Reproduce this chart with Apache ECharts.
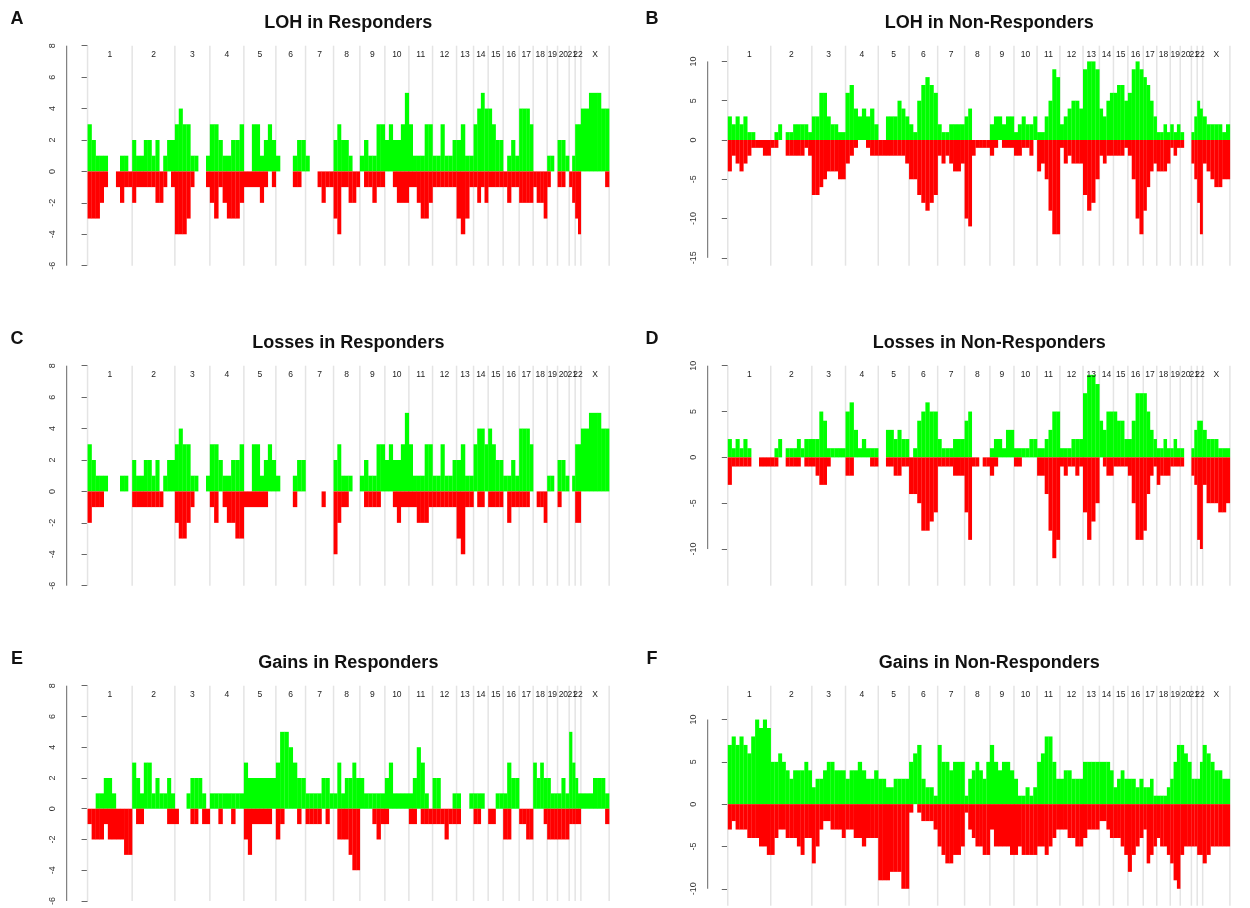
<!DOCTYPE html>
<html>
<head>
<meta charset="utf-8">
<script src="https://cdn.jsdelivr.net/npm/echarts@6/dist/echarts.min.js"></script>
<style>
html, body { margin: 0; padding: 0; background: #fff; }
#chart { width: 1250px; height: 908px; }
</style>
</head>
<body>
<div id="chart"></div>
<script>
// chromosomes and their relative lengths on the genome axis
var chromNames = ['1', '2', '3', '4', '5', '6', '7', '8', '9', '10', '11', '12',
    '13', '14', '15', '16', '17', '18', '19', '20', '21', '22', 'X'];
var chromLen = [44.6, 42.7, 35, 34, 32, 29.7, 28, 26.3, 25, 24, 23.7, 24,
    17, 14.6, 15, 16, 14, 14, 10.4, 11.6, 6, 5.7, 28.3];

// y tick labels
var respTicks = [-6, -4, -2, 0, 2, 4, 6, 8];
var lohNonTicks = [-15, -10, -5, 0, 5, 10];
var lossNonTicks = [-10, -5, 0, 5, 10];
var gainNonTicks = [-10, -5, 0, 5, 10];

// each profile: one list per chromosome, the chromosome split in equal bins
var lohRespUp = [
    [3, 2, 1, 1, 1, 0, 0, 0, 1, 1, 0], [2, 1, 1, 2, 2, 1, 2, 0, 1, 2, 2], [3, 4, 3, 3, 1, 1, 0, 0, 1],
    [3, 3, 2, 1, 1, 2, 2, 3], [0, 0, 3, 3, 1, 2, 3, 2], [1, 0, 0, 0, 1, 2, 2], [1, 0, 0, 0, 0, 0, 0],
    [2, 3, 2, 2, 1, 0, 0], [1, 2, 1, 1, 3, 3], [2, 3, 2, 2, 3, 5], [3, 1, 1, 1, 3, 3], [1, 1, 3, 1, 1, 2],
    [2, 3, 1, 1], [3, 4, 5, 4], [4, 3, 2, 2], [0, 1, 2, 1], [4, 4, 4, 3], [0, 0, 0, 0],
    [1, 1, 0], [2, 2, 1], [0, 1], [3, 3], [4, 4, 5, 5, 5, 4, 4]
];
var lohRespDown = [
    [-3, -3, -3, -2, -1, 0, 0, -1, -2, -1, -1], [-2, -1, -1, -1, -1, -1, -2, -2, -1, 0, -1], [-4, -4, -4, -3, -1, 0, 0, 0, -1],
    [-2, -3, -1, -2, -3, -3, -3, -2], [-1, -1, -1, -1, -2, -1, 0, -1], [0, 0, 0, 0, -1, -1, 0], [0, 0, 0, -1, -2, -1, -1],
    [-3, -4, -1, -1, -2, -2, -1], [0, -1, -1, -2, -1, -1], [0, 0, -1, -2, -2, -2], [-1, -1, -2, -3, -3, -2], [-1, -1, -1, -1, -1, -1],
    [-3, -4, -3, -1], [-1, -2, -1, -2], [-1, -1, -1, -1], [-1, -2, -1, -1], [-2, -2, -2, -2], [-1, -2, -2, -3],
    [-1, 0, 0], [-1, -1, 0], [-1, -2], [-3, -4], [0, 0, 0, 0, 0, 0, -1]
];

var lohNonUp = [
    [3, 2, 3, 2, 3, 1, 1, 0, 0, 0, 0], [0, 1, 2, 0, 1, 1, 2, 2, 2, 2, 1], [3, 3, 6, 6, 3, 2, 2, 1, 1],
    [6, 7, 4, 3, 4, 3, 4, 2], [0, 0, 3, 3, 3, 5, 4, 3], [2, 1, 5, 7, 8, 7, 6], [2, 1, 1, 2, 2, 2, 2],
    [3, 4, 0, 0, 0, 0, 0], [2, 3, 3, 2, 3, 3], [1, 2, 3, 2, 2, 3], [1, 1, 3, 5, 9, 8], [2, 3, 4, 5, 5, 4],
    [9, 10, 10, 9], [4, 3, 5, 6], [6, 7, 7, 5], [6, 9, 10, 9], [8, 7, 5, 3], [1, 1, 2, 1],
    [2, 1, 2], [1, 0, 0], [1, 3], [5, 4], [3, 2, 2, 2, 2, 1, 2]
];
var lohNonDown = [
    [-4, -2, -3, -4, -3, -2, -1, -1, -1, -2, -2], [-1, -1, 0, 0, -2, -2, -2, -2, -2, -1, -2], [-7, -7, -6, -5, -4, -4, -4, -5, -5],
    [-3, -2, -1, 0, 0, -1, -2, -2], [-2, -2, -2, -2, -2, -2, -2, -3], [-5, -5, -7, -8, -9, -8, -7], [-2, -3, -2, -3, -4, -4, -3],
    [-10, -11, -2, -1, -1, -1, -1], [-2, -1, 0, -1, -1, -1], [-2, -2, -1, -1, -2, 0], [-4, -3, -5, -9, -12, -12], [-1, -3, -2, -3, -3, -3],
    [-7, -9, -8, -5], [-2, -3, -2, -2], [-2, -2, -2, -1], [-2, -5, -10, -12], [-9, -6, -4, -3], [-4, -4, -4, -3],
    [-1, -2, -1], [-1, 0, 0], [-3, -5], [-8, -12], [-3, -4, -5, -6, -6, -5, -5]
];

var lossRespUp = [
    [3, 2, 1, 1, 1, 0, 0, 0, 1, 1, 0], [2, 1, 1, 2, 2, 1, 2, 0, 1, 2, 2], [3, 4, 3, 3, 1, 1, 0, 0, 1],
    [3, 3, 2, 1, 1, 2, 2, 3], [0, 0, 3, 3, 1, 2, 3, 2], [1, 0, 0, 0, 1, 2, 2], [0, 0, 0, 0, 0, 0, 0],
    [2, 3, 1, 1, 1, 0, 0], [1, 2, 1, 1, 3, 3], [2, 3, 2, 2, 3, 5], [3, 1, 1, 1, 3, 3], [1, 1, 3, 1, 1, 2],
    [2, 3, 1, 1], [3, 4, 4, 3], [4, 3, 2, 2], [1, 1, 2, 1], [4, 4, 4, 3], [0, 0, 0, 0],
    [1, 1, 0], [2, 2, 1], [0, 1], [3, 3], [4, 4, 5, 5, 5, 4, 4]
];
var lossRespDown = [
    [-2, -1, -1, -1, 0, 0, 0, 0, 0, 0, 0], [-1, -1, -1, -1, -1, -1, -1, -1, 0, 0, 0], [-2, -3, -3, -2, -1, 0, 0, 0, 0],
    [-1, -2, 0, -1, -2, -2, -3, -3], [-1, -1, -1, -1, -1, -1, 0, 0], [0, 0, 0, 0, -1, 0, 0], [0, 0, 0, 0, -1, 0, 0],
    [-4, -2, -1, -1, 0, 0, 0], [0, -1, -1, -1, -1, 0], [0, 0, -1, -2, -1, -1], [-1, -1, -2, -2, -2, -1], [-1, -1, -1, -1, -1, -1],
    [-3, -4, -1, -1], [0, -1, -1, 0], [-1, -1, -1, -1], [0, -2, -1, -1], [-1, -1, -1, 0], [0, -1, -1, -2],
    [0, 0, 0], [-1, 0, 0], [0, 0], [-2, -2], [0, 0, 0, 0, 0, 0, 0]
];

var lossNonUp = [
    [2, 1, 2, 1, 2, 1, 0, 0, 0, 0, 0], [0, 1, 2, 0, 1, 1, 1, 2, 1, 2, 2], [2, 2, 5, 4, 1, 1, 1, 1, 1],
    [5, 6, 3, 1, 2, 1, 1, 1], [0, 0, 3, 3, 2, 3, 2, 2], [0, 1, 4, 5, 6, 5, 5], [2, 1, 1, 1, 2, 2, 2],
    [4, 5, 0, 0, 0, 0, 0], [1, 2, 2, 1, 3, 3], [1, 1, 1, 1, 2, 2], [1, 1, 2, 3, 5, 5], [1, 1, 1, 2, 2, 2],
    [7, 9, 9, 8], [4, 3, 5, 5], [5, 4, 4, 2], [2, 4, 7, 7], [7, 5, 3, 2], [1, 1, 2, 1],
    [1, 2, 1], [1, 0, 0], [1, 3], [4, 4], [3, 2, 2, 2, 1, 1, 1]
];
var lossNonDown = [
    [-3, -1, -1, -1, -1, -1, 0, 0, -1, -1, -1], [-1, -1, 0, 0, -1, -1, -1, -1, 0, -1, -1], [-1, -2, -3, -3, -1, 0, 0, 0, 0],
    [-2, -2, 0, 0, 0, 0, -1, -1], [0, 0, -1, -1, -2, -2, -1, -1], [-4, -4, -5, -8, -8, -7, -6], [-1, -1, -1, -1, -2, -2, -2],
    [-6, -9, -1, -1, 0, -1, -1], [-2, -1, 0, 0, 0, 0], [-1, -1, 0, 0, 0, 0], [-2, -2, -4, -8, -11, -9], [-1, -2, -1, -1, -2, -1],
    [-6, -9, -7, -5], [0, -1, -2, -2], [-1, -1, -1, -1], [-2, -5, -9, -9], [-8, -4, -2, -1], [-3, -2, -2, -2],
    [-1, -1, -1], [-1, 0, 0], [-2, -3], [-9, -10], [-3, -5, -5, -5, -6, -6, -5]
];

var gainRespUp = [
    [0, 0, 1, 1, 2, 2, 1, 0, 0, 0, 0], [3, 2, 1, 3, 3, 1, 2, 1, 1, 2, 1], [0, 0, 0, 1, 2, 2, 2, 1, 0],
    [1, 1, 1, 1, 1, 1, 1, 1], [3, 2, 2, 2, 2, 2, 2, 2], [3, 5, 5, 4, 3, 2, 2], [1, 1, 1, 1, 2, 2, 1],
    [1, 3, 1, 2, 2, 3, 2], [2, 1, 1, 1, 1, 1], [2, 3, 1, 1, 1, 1], [1, 2, 4, 3, 1, 0], [2, 2, 0, 0, 0, 1],
    [1, 0, 0, 1], [1, 1, 1, 0], [0, 0, 1, 1], [1, 3, 2, 2], [0, 0, 0, 0], [3, 2, 3, 2],
    [2, 1, 1], [1, 2, 1], [5, 3], [2, 1], [1, 1, 1, 2, 2, 2, 1]
];
var gainRespDown = [
    [-1, -2, -2, -2, -1, -2, -2, -2, -2, -3, -3], [0, -1, -1, 0, 0, 0, 0, 0, 0, -1, -1], [-1, 0, 0, 0, -1, -1, 0, -1, -1],
    [0, 0, -1, 0, 0, -1, 0, 0], [-2, -3, -1, -1, -1, -1, -1, 0], [-2, -1, 0, 0, 0, -1, 0], [-1, -1, -1, -1, 0, -1, 0],
    [0, -2, -2, -2, -3, -4, -4], [0, 0, 0, -1, -2, -1], [-1, 0, 0, 0, 0, 0], [-1, -1, 0, -1, -1, -1], [-1, -1, -1, -2, -1, -1],
    [-1, 0, 0, 0], [-1, -1, 0, 0], [-1, -1, 0, 0], [-2, -2, 0, 0], [-1, -1, -2, -2], [0, 0, 0, -1],
    [-2, -2, -2], [-2, -2, -2], [-1, -1], [-1, -1], [0, 0, 0, 0, 0, 0, -1]
];

var gainNonUp = [
    [7, 8, 7, 8, 7, 6, 8, 10, 9, 10, 9], [5, 5, 6, 5, 4, 3, 4, 4, 4, 5, 4], [2, 3, 3, 4, 5, 5, 4, 4, 4],
    [3, 4, 4, 5, 4, 3, 3, 4], [3, 3, 2, 2, 3, 3, 3, 3], [5, 6, 7, 3, 2, 2, 1], [7, 5, 5, 4, 5, 5, 5],
    [1, 3, 4, 5, 4, 3, 5], [7, 5, 4, 5, 5, 4], [3, 1, 1, 2, 1, 2], [5, 6, 8, 8, 5, 3], [3, 4, 4, 3, 3, 3],
    [5, 5, 5, 5], [5, 5, 5, 4], [2, 3, 4, 3], [3, 3, 2, 3], [2, 2, 3, 1], [1, 1, 1, 2],
    [3, 5, 7], [7, 6, 5], [3, 3], [3, 5], [7, 6, 5, 4, 4, 3, 3]
];
var gainNonDown = [
    [-3, -2, -3, -3, -3, -4, -4, -4, -5, -5, -6], [-6, -4, -3, -3, -4, -4, -4, -5, -6, -4, -4], [-7, -5, -3, -2, -2, -3, -3, -3, -4],
    [-3, -3, -4, -4, -5, -4, -4, -4], [-9, -9, -9, -8, -8, -8, -10, -10], [-1, 0, -1, -2, -2, -2, -3], [-5, -6, -7, -7, -6, -6, -5],
    [-1, -3, -4, -5, -5, -6, -6], [-3, -5, -5, -5, -5, -6], [-6, -5, -6, -6, -6, -6], [-5, -5, -6, -5, -4, -3], [-3, -3, -4, -4, -5, -5],
    [-4, -3, -3, -3], [-2, -2, -3, -4], [-4, -4, -5, -6], [-8, -6, -5, -4], [-3, -7, -6, -5], [-4, -5, -5, -6],
    [-7, -9, -10], [-6, -5, -5], [-5, -5], [-6, -6], [-7, -6, -5, -5, -5, -5, -5]
];

var chromStart = [];
var acc = 0;
for (var i = 0; i < chromLen.length; i++) {
    chromStart.push(acc);
    acc += chromLen[i];
}
var genomeLen = acc;
var pad = genomeLen * 0.04; // R style axis extension

var panels = [
    { letter: 'A', title: 'LOH in Responders', up: lohRespUp, down: lohRespDown, range: [-6, 8], ticks: respTicks, left: 66.7, top: 45.7 },
    { letter: 'B', title: 'LOH in Non-Responders', up: lohNonUp, down: lohNonDown, range: [-16, 12], ticks: lohNonTicks, left: 707.7, top: 45.7 },
    { letter: 'C', title: 'Losses in Responders', up: lossRespUp, down: lossRespDown, range: [-6, 8], ticks: respTicks, left: 66.7, top: 365.7 },
    { letter: 'D', title: 'Losses in Non-Responders', up: lossNonUp, down: lossNonDown, range: [-14, 10], ticks: lossNonTicks, left: 707.7, top: 365.7 },
    { letter: 'E', title: 'Gains in Responders', up: gainRespUp, down: gainRespDown, range: [-6, 8], ticks: respTicks, left: 66.7, top: 685.7 },
    { letter: 'F', title: 'Gains in Non-Responders', up: gainNonUp, down: gainNonDown, range: [-12, 14], ticks: gainNonTicks, left: 707.7, top: 685.7 }
];

// turn per-chromosome bins into [start, end, value] items
function toSegments(profile) {
    var out = [];
    profile.forEach(function (vals, c) {
        var w = chromLen[c] / vals.length;
        vals.forEach(function (v, k) {
            if (v !== 0) {
                out.push([chromStart[c] + k * w, chromStart[c] + (k + 1) * w, v]);
            }
        });
    });
    return out;
}

function renderBar(params, api) {
    var a = api.coord([api.value(0), api.value(2)]);
    var b = api.coord([api.value(1), 0]);
    return {
        type: 'rect',
        shape: { x: a[0], y: Math.min(a[1], b[1]), width: b[0] - a[0] + 0.2, height: Math.abs(b[1] - a[1]) },
        style: { fill: api.visual('color') }
    };
}

var font = 'Liberation Sans, Arial, Helvetica, sans-serif';
var grids = [], xAxes = [], yAxes = [], series = [], graphics = [];

var bounds = chromStart.concat([genomeLen]).map(function (b) { return [b, 0]; });
var mids = chromStart.map(function (s, c) { return [s + chromLen[c] / 2, 0]; });

panels.forEach(function (p, idx) {
    var ymin = p.range[0], ymax = p.range[1];
    var ticks = p.ticks;
    grids.push({ left: p.left, top: p.top, width: genomeLen + 2 * pad, height: 220 });
    xAxes.push({ gridIndex: idx, type: 'value', min: -pad, max: genomeLen + pad, show: false });
    yAxes.push({
        gridIndex: idx, type: 'value', min: ymin, max: ymax,
        axisLine: { show: false },
        splitLine: { show: false },
        axisTick: { show: true, length: 6, customValues: ticks, lineStyle: { color: '#666' } },
        axisLabel: { customValues: ticks, rotate: 90, fontSize: 9, color: '#333', margin: 10, fontFamily: font }
    });

    // chromosome separators
    series.push({
        type: 'custom', xAxisIndex: idx, yAxisIndex: idx, silent: true, z: 1,
        data: bounds,
        renderItem: function (params, api) {
            var t = api.coord([api.value(0), ymax]);
            var b = api.coord([api.value(0), ymin]);
            return { type: 'line', shape: { x1: t[0], y1: t[1], x2: b[0], y2: b[1] }, style: { stroke: '#e4e4e4', lineWidth: 1.5 } };
        }
    });
    // axis line spanning the tick range only
    series.push({
        type: 'custom', xAxisIndex: idx, yAxisIndex: idx, silent: true, z: 3,
        data: [[-pad, 0]],
        renderItem: function (params, api) {
            var t = api.coord([-pad, ticks[ticks.length - 1]]);
            var b = api.coord([-pad, ticks[0]]);
            return { type: 'line', shape: { x1: t[0], y1: t[1], x2: b[0], y2: b[1] }, style: { stroke: '#666', lineWidth: 1 } };
        }
    });
    series.push({
        type: 'custom', xAxisIndex: idx, yAxisIndex: idx, silent: true, z: 2,
        itemStyle: { color: '#00ff00' },
        encode: { x: [0, 1], y: 2 },
        data: toSegments(p.up),
        renderItem: renderBar
    });
    series.push({
        type: 'custom', xAxisIndex: idx, yAxisIndex: idx, silent: true, z: 2,
        itemStyle: { color: '#ff0000' },
        encode: { x: [0, 1], y: 2 },
        data: toSegments(p.down),
        renderItem: renderBar
    });
    // chromosome names along the top
    series.push({
        type: 'custom', xAxisIndex: idx, yAxisIndex: idx, silent: true, z: 3,
        data: mids,
        renderItem: function (params, api) {
            var pt = api.coord([api.value(0), ymax]);
            return {
                type: 'text',
                style: {
                    x: pt[0], y: pt[1] + 8.5, text: chromNames[params.dataIndex],
                    align: 'center', verticalAlign: 'middle',
                    font: '8.5px ' + font, fill: '#222'
                }
            };
        }
    });

    var cx = p.left + (genomeLen + 2 * pad) / 2;
    graphics.push({
        type: 'text', silent: true,
        style: { x: cx, y: p.top - 23, text: p.title, align: 'center', verticalAlign: 'middle', font: 'bold 18px ' + font, fill: '#111' }
    });
    graphics.push({
        type: 'text', silent: true,
        style: { x: p.left < 300 ? 17 : 652, y: p.top - 27, text: p.letter, align: 'center', verticalAlign: 'middle', font: 'bold 18px ' + font, fill: '#111' }
    });
});

var chart = echarts.init(document.getElementById('chart'));
chart.setOption({
    animation: false,
    backgroundColor: '#fff',
    grid: grids,
    xAxis: xAxes,
    yAxis: yAxes,
    series: series,
    graphic: graphics
});
</script>
</body>
</html>
